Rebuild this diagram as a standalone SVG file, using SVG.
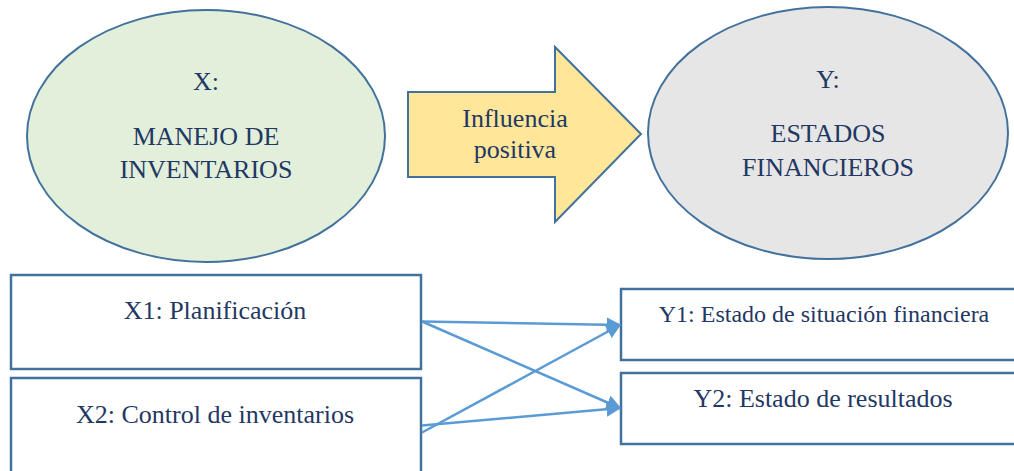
<svg xmlns="http://www.w3.org/2000/svg" width="1014" height="471" viewBox="0 0 1014 471">
<style>
text{fill:#1F3864;text-anchor:middle}
.big{font-size:26px}
.box{fill:#ffffff;stroke:#41719C;stroke-width:2.5}
.conn{stroke:#5B9BD5;stroke-width:2.5;fill:none}
</style>
<defs>
<marker id="ah" viewBox="0 0 10 10" refX="9" refY="5" markerWidth="6" markerHeight="6" markerUnits="strokeWidth" orient="auto">
<path d="M0,0 L10,5 L0,10 z" fill="#5B9BD5"/>
</marker>
</defs>
<rect width="1014" height="471" fill="#ffffff"/>
<g font-family="'Liberation Serif', 'Times New Roman', 'DejaVu Serif', serif">
<g id="nodeX">
<ellipse cx="206" cy="136" rx="179" ry="126" fill="#E2EFDA" stroke="#41719C" stroke-width="2"/>
<text class="big" x="206" y="90">X:</text>
<text class="big" x="206" y="145">MANEJO DE</text>
<text class="big" x="206" y="178">INVENTARIOS</text>
</g>
<g id="arrow">
<path d="M408,92 L555,92 L555,47 L641,134 L555,222 L555,177 L408,177 Z" fill="#FFE699" stroke="#41719C" stroke-width="2"/>
<text class="big" x="515" y="127">Influencia</text>
<text class="big" x="515" y="158">positiva</text>
</g>
<g id="nodeY">
<ellipse cx="828" cy="133" rx="180" ry="126" fill="#E7E6E6" stroke="#41719C" stroke-width="2"/>
<text class="big" x="828" y="88">Y:</text>
<text class="big" x="828" y="142">ESTADOS</text>
<text class="big" x="828" y="176">FINANCIEROS</text>
</g>
<g id="nodeX1">
<rect class="box" x="11" y="275" width="410" height="94"/>
<text class="big" x="215" y="319">X1: Planificación</text>
</g>
<g id="nodeX2">
<rect class="box" x="11" y="378" width="410" height="110"/>
<text class="big" x="215" y="423">X2: Control de inventarios</text>
</g>
<g id="nodeY1">
<rect class="box" x="621" y="289" width="410" height="71"/>
<text x="824" y="322" font-size="24px">Y1: Estado de situación financiera</text>
</g>
<g id="nodeY2">
<rect class="box" x="621" y="373" width="410" height="71"/>
<text class="big" x="823" y="407">Y2: Estado de resultados</text>
</g>
</g>
<g id="connectors">
<line class="conn" x1="422" y1="321.5" x2="620" y2="325" marker-end="url(#ah)"/>
<line class="conn" x1="422" y1="321.5" x2="620" y2="408" marker-end="url(#ah)"/>
<line class="conn" x1="422" y1="432.5" x2="620" y2="325" marker-end="url(#ah)"/>
<line class="conn" x1="422" y1="425.5" x2="620" y2="408" marker-end="url(#ah)"/>
</g>
</svg>
